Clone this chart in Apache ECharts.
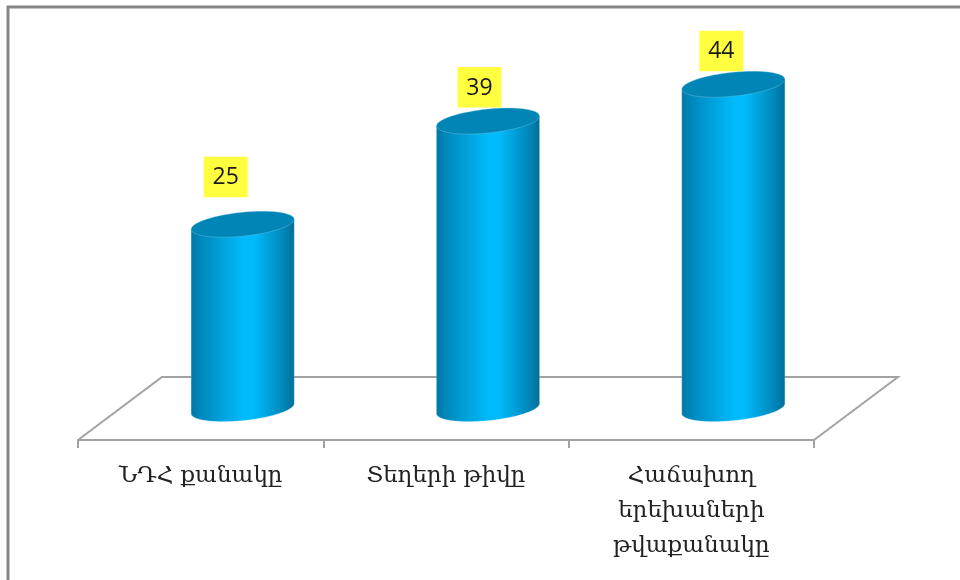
<!DOCTYPE html>
<html>
<head>
<meta charset="utf-8">
<style>html,body{margin:0;padding:0;background:#fff}#c{width:960px;height:580px}</style>
<script src="https://cdn.jsdelivr.net/npm/echarts@6/dist/echarts.min.js"></script>
</head>
<body>
<div id="c"></div>
<script>
const categories = ['ՆԴՀ քանակը', 'Տեղերի թիվը', 'Հաճախող\nերեխաների\nթվաքանակը'];
const values = [25, 39, 44];

const FLOOR_DX = 84, FLOOR_DY = -63;
const LABEL_NUDGE = [[-17, -47.5], [-8.5, -34], [-12, -33.5]];
const chart = echarts.init(document.getElementById('c'), null, {renderer: 'canvas'});

function ellipsePts(cx, cy, a, b, s, from, to) {
  const pts = [];
  const n = 64;
  for (let i = 0; i <= n; i++) {
    const t = from + (to - from) * i / n;
    pts.push([cx + a * Math.cos(t), cy + b * Math.sin(t) - s * Math.cos(t)]);
  }
  return pts;
}

function renderCylinder(params, api) {
  const idx = api.value(0);
  const base = api.coord([idx, 0]);
  const top = api.coord([idx, api.value(1)]);
  const band = api.size([1, 0])[0];
  const a = band * 0.21, b = 12, s = 5;
  const cx = base[0] + FLOOR_DX / 2;
  const yBase = base[1] + FLOOR_DY / 2;
  const yTop = top[1] + FLOOR_DY / 2;
  const bottomArc = ellipsePts(cx, yBase, a, b, s, Math.PI, 0);
  const body = [[cx - a, yTop + s]].concat(bottomArc, [[cx + a, yTop - s]]);
  const grad = new echarts.graphic.LinearGradient(cx - a, 0, cx + a, 0, [
    {offset: 0, color: '#0078a6'},
    {offset: 0.12, color: '#008cc0'},
    {offset: 0.52, color: '#00bcfd'},
    {offset: 0.6, color: '#00bcfd'},
    {offset: 0.9, color: '#0086b8'},
    {offset: 1, color: '#006e99'}
  ], true);
  const nudge = LABEL_NUDGE[idx];
  const lx = cx + nudge[0], ly = yTop + nudge[1];
  return {
    type: 'group',
    children: [
      {type: 'polygon', shape: {points: body}, style: {fill: grad, stroke: 'rgba(140,210,240,0.3)', lineWidth: 1}},
      {type: 'polygon', shape: {points: ellipsePts(cx, yTop, a, b, s, 0, Math.PI * 2)},
        style: {fill: '#0085b6', stroke: 'rgba(140,210,240,0.35)', lineWidth: 1}},
      {type: 'rect', shape: {x: lx - 22, y: ly - 20, width: 44, height: 40.5}, style: {fill: '#ffff40'}},
      {type: 'text', style: {text: String(api.value(1)), x: lx, y: ly + 1, align: 'center', verticalAlign: 'middle',
        fontFamily: 'Open Sans', fontSize: 23, fill: '#1a1a1a'}}
    ]
  };
}

function renderFloor(params) {
  const c = params.coordSys;
  const x0 = c.x, x1 = c.x + c.width, y = c.y + c.height;
  return {
    type: 'polyline',
    shape: {points: [[x0, y], [x0 + FLOOR_DX, y + FLOOR_DY], [x1 + FLOOR_DX, y + FLOOR_DY], [x1, y]]},
    style: {stroke: '#a2a2a2', lineWidth: 2, fill: 'none'}
  };
}

chart.setOption({
  animation: false,
  backgroundColor: '#ffffff',
  graphic: [{
    type: 'rect', silent: true, z: -1,
    shape: {x: 8, y: 7, width: 1000, height: 1000},
    style: {fill: '#ffffff', stroke: '#868686', lineWidth: 3}
  }],
  grid: {left: 78, top: 42, width: 736, height: 398, containLabel: false},
  xAxis: {
    type: 'category',
    data: categories,
    axisLine: {show: true, lineStyle: {color: '#a2a2a2', width: 2}},
    axisTick: {show: true, alignWithLabel: false, length: 8, lineStyle: {color: '#a2a2a2', width: 2}},
    axisLabel: {
      interval: 0, margin: 19, lineHeight: 35, color: '#222',
      fontFamily: 'DejaVu Serif', fontSize: 23
    }
  },
  yAxis: {type: 'value', min: 0, max: 54, show: false, splitLine: {show: false}},
  series: [
    {type: 'custom', coordinateSystem: 'cartesian2d', z: 1, silent: true, data: [[0, 0]], renderItem: renderFloor,
      encode: {x: 0, y: 1}},
    {type: 'custom', coordinateSystem: 'cartesian2d', z: 2, renderItem: renderCylinder,
      encode: {x: 0, y: 1},
      data: values.map((v, i) => [i, v])}
  ]
});
</script>
</body>
</html>
